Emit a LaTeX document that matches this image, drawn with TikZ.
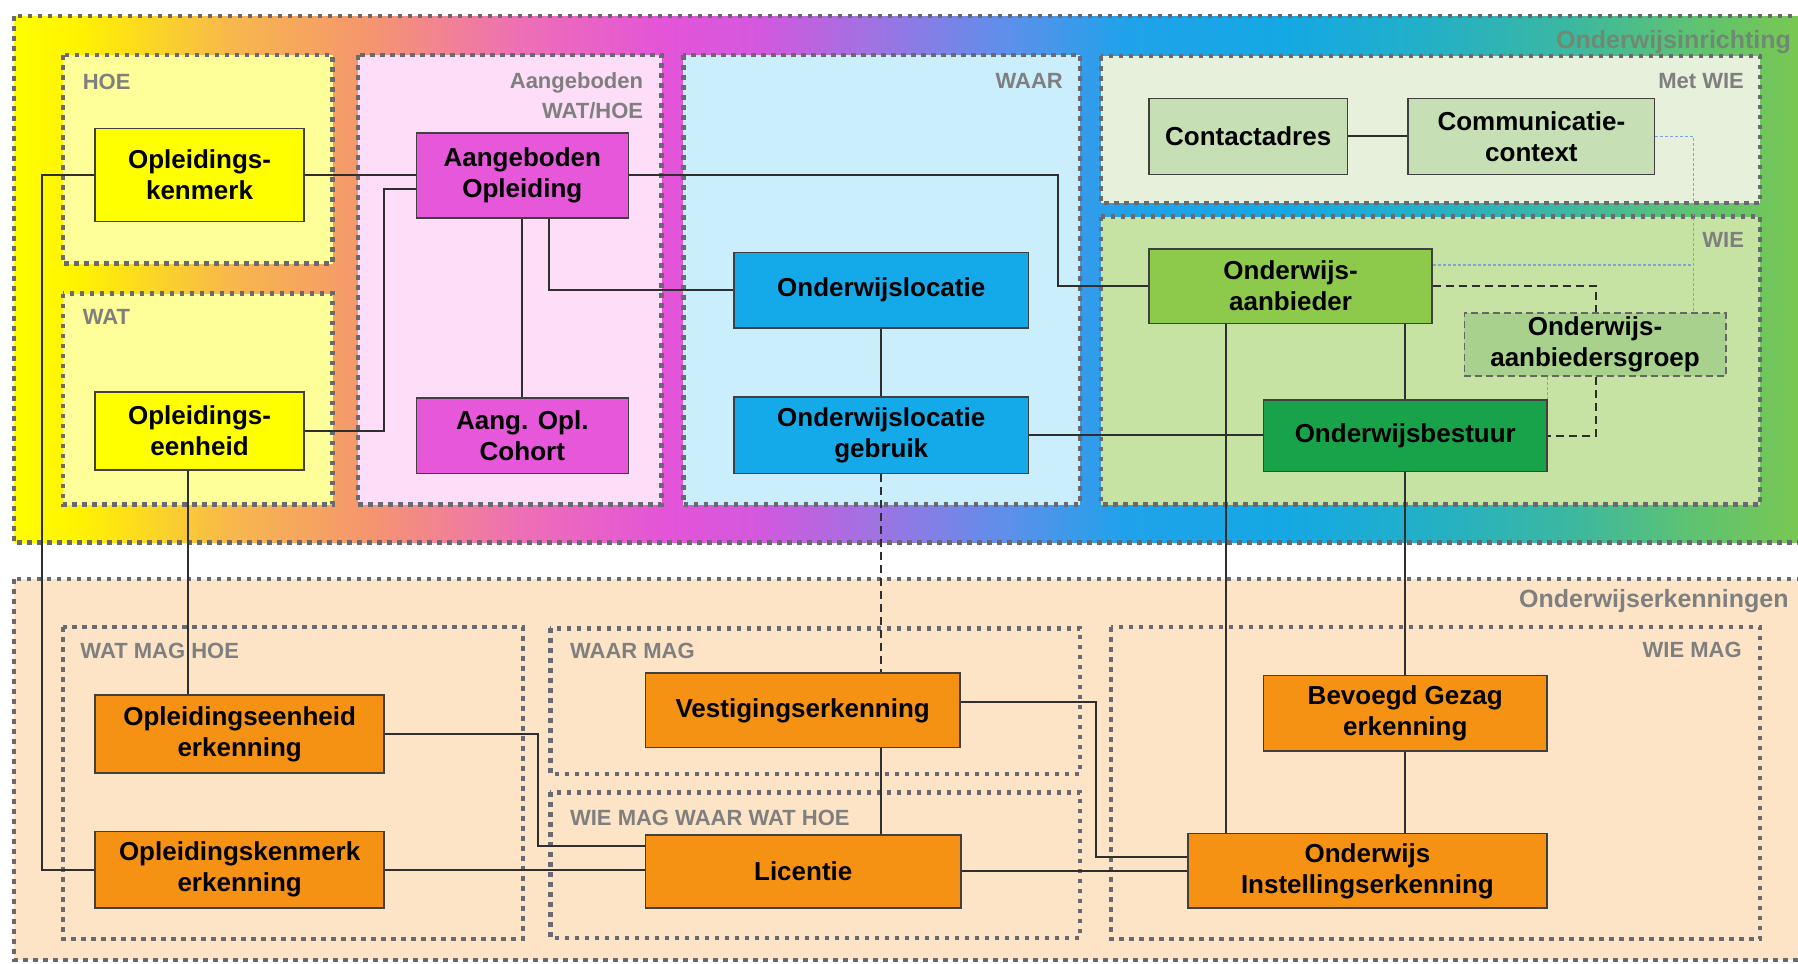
\documentclass[tikz,border=0pt]{standalone}
\usepackage{fontspec}
\setmainfont{Liberation Sans}
\usetikzlibrary{calc}
\definecolor{s0}{HTML}{FFFF00}
\definecolor{s1}{HTML}{FFF200}
\definecolor{s2}{HTML}{F7B84C}
\definecolor{s3}{HTML}{F5966E}
\definecolor{s4}{HTML}{EE70B4}
\definecolor{s5}{HTML}{E354D8}
\definecolor{s6}{HTML}{D458DE}
\definecolor{s7}{HTML}{A072E2}
\definecolor{s8}{HTML}{5C90EA}
\definecolor{s9}{HTML}{20A2EA}
\definecolor{s10}{HTML}{14A8E4}
\definecolor{s11}{HTML}{22B0C8}
\definecolor{s12}{HTML}{3CB8A0}
\definecolor{s13}{HTML}{5CC274}
\definecolor{s14}{HTML}{7CC84E}
\pgfdeclarehorizontalshading{rainbow}{100bp}{color(0bp)=(s0); color(25bp)=(s0); color(26.85bp)=(s1); color(31bp)=(s2); color(34.82bp)=(s3); color(38.97bp)=(s4); color(43.11bp)=(s5); color(45.66bp)=(s6); color(48.85bp)=(s7); color(52.68bp)=(s8); color(55.87bp)=(s9); color(60.33bp)=(s10); color(64.16bp)=(s11); color(68.3bp)=(s12); color(71.49bp)=(s13); color(75bp)=(s14); color(100bp)=(s14)}
\definecolor{dotgray}{HTML}{6A6870}
\definecolor{labgray}{HTML}{7F7F7F}
\definecolor{ingray}{HTML}{6F8A72}
\definecolor{edgec}{HTML}{404040}
\definecolor{linec}{HTML}{2E2E2E}
\definecolor{bluec}{HTML}{7AA6DA}
\definecolor{cyel}{HTML}{FFFF00}
\definecolor{cmag}{HTML}{E657D9}
\definecolor{cblu}{HTML}{14A9E8}
\definecolor{clg}{HTML}{C6DFB4}
\definecolor{cgreen}{HTML}{8DC94B}
\definecolor{cgrp}{HTML}{A9D18E}
\definecolor{cdg}{HTML}{18A24A}
\definecolor{cor}{HTML}{F59214}
\definecolor{fyel}{HTML}{FFFF99}
\definecolor{fpink}{HTML}{FDDDF7}
\definecolor{fblue}{HTML}{CAEEFC}
\definecolor{fmet}{HTML}{E6F0DA}
\definecolor{fwie}{HTML}{C6E3A4}
\definecolor{forange}{HTML}{FDE4C6}
\newcommand{\entfont}{\fontsize{26}{31}\selectfont\bfseries}
\newcommand{\lblfont}{\fontsize{22}{26}\selectfont\bfseries}
\newcommand{\bigfont}{\fontsize{25}{29}\selectfont\bfseries}
\tikzset{
  dotbox/.style={draw=dotgray, line width=4.5pt, dash pattern=on 4.5pt off 5.5pt},
  ent/.style={draw=edgec, line width=1.5pt, inner sep=0pt, align=center, font=\entfont, text=black},
  sz/.style 2 args={minimum width=#1*1.1467pt, minimum height=#2*1.1467pt},
  conn/.style={draw=linec, line width=2pt},
  dconn/.style={draw=linec, line width=2pt, dash pattern=on 8pt off 5pt},
  bconn/.style={draw=bluec, line width=1.3pt, dash pattern=on 3pt off 2pt},
  lab/.style={text=labgray, font=\lblfont, inner sep=0pt},
}
\begin{document}
\begin{tikzpicture}[x=1.1467pt,y=-1.1467pt]
\useasboundingbox (0,0) rectangle (1568,840);
% outer containers
\shade[shading=rainbow] (12,14) rectangle (1580,473);
\draw[dotbox] (12,14) rectangle (1580,473);
\fill[forange] (12,505) rectangle (1580,837);
\draw[dotbox] (12,505) rectangle (1580,837);
% sub containers
\draw[dotbox, fill=fyel] (55,48) rectangle (290,230);
\draw[dotbox, fill=fyel] (55,256) rectangle (290,440);
\draw[dotbox, fill=fpink] (312,48) rectangle (577,440);
\draw[dotbox, fill=fblue] (596,48) rectangle (942,440);
\draw[dotbox, fill=fmet] (960,49) rectangle (1535,177);
\draw[dotbox, fill=fwie] (960,189) rectangle (1535,440);
\draw[dotbox] (55,547) rectangle (456,819);
\draw[dotbox] (480,548) rectangle (942,675);
\draw[dotbox] (480,691) rectangle (942,818);
\draw[dotbox] (969,547) rectangle (1535,819);
% labels
\node[lab, text=ingray, font=\bigfont, anchor=base east] (l1) at (1562,42) {Onderwijsinrichting};
\node[lab, font=\bigfont, anchor=base east] (l2) at (1560,530) {Onderwijserkenningen};
\node[lab, anchor=base west] (l3) at (72,78) {HOE};
\node[lab, anchor=base west] (l4) at (72,283) {WAT};
\node[lab, anchor=base east] (l5) at (561,77) {Aangeboden};
\node[lab, anchor=base east] (l6) at (561,103) {WAT/HOE};
\node[lab, anchor=base east] (l7) at (927,77) {WAAR};
\node[lab, anchor=base east] (l8) at (1521,77) {Met WIE};
\node[lab, anchor=base east] (l9) at (1521,216) {WIE};
\node[lab, anchor=base west] (l10) at (70,574) {WAT MAG HOE};
\node[lab, anchor=base west] (l11) at (497,574) {WAAR MAG};
\node[lab, anchor=base west] (l12) at (497,720) {WIE MAG WAAR WAT HOE};
\node[lab, anchor=base east] (l13) at (1519,573) {WIE MAG};
% entities
\node[ent, fill=cyel, sz={182}{81}] (ok) at (174,152.5) {Opleidings-\\kenmerk};
\node[ent, fill=cyel, sz={182}{68}] (oe) at (174,376) {Opleidings-\\eenheid};
\node[ent, fill=cmag, sz={185}{74}] (ao) at (455.5,153) {Aangeboden\\Opleiding};
\node[ent, fill=cmag, sz={185}{66}] (aoc) at (455.5,380) {Aang. Opl.\\Cohort};
\node[ent, fill=cblu, sz={257}{66}] (ol) at (768.5,253) {Onderwijslocatie};
\node[ent, fill=cblu, sz={257}{67}] (olg) at (768.5,379.5) {Onderwijslocatie\\gebruik};
\node[ent, fill=clg, sz={173}{66}] (ca) at (1088.5,119) {Contactadres};
\node[ent, fill=clg, sz={215}{66}] (cc) at (1335.5,119) {Communicatie-\\context};
\node[ent, fill=cgreen, sz={247}{65}] (oa) at (1125.5,249.5) {Onderwijs-\\aanbieder};
\node[ent, fill=cgrp, draw=edgec!80, dash pattern=on 7pt off 4pt, sz={228}{55}] (oag) at (1391,300.5) {Onderwijs-\\aanbiedersgroep};
\node[ent, fill=cdg, sz={247}{62}] (ob) at (1225.5,380) {Onderwijsbestuur};
\node[ent, fill=cor, sz={252}{68}] (oee) at (209,640) {Opleidingseenheid\\erkenning};
\node[ent, fill=cor, sz={252}{67}] (oke) at (209,758.5) {Opleidingskenmerk\\erkenning};
\node[ent, fill=cor, sz={274}{65}] (ve) at (700,619.5) {Vestigingserkenning};
\node[ent, fill=cor, sz={275}{64}] (li) at (700.5,760) {Licentie};
\node[ent, fill=cor, sz={247}{66}] (bg) at (1225.5,622) {Bevoegd Gezag\\erkenning};
\node[ent, fill=cor, sz={313}{65}] (oi) at (1192.5,759.5) {Onderwijs\\Instellingserkenning};
% helper coordinates
\coordinate (j1) at (335,165);
\coordinate (j2) at (37,152.5);
\coordinate (j3) at (164,0);
\coordinate (j4) at (479,253);
\coordinate (j5) at (923,153);
\coordinate (j6) at (1477,119);
\coordinate (j7) at (1477,231);
\coordinate (j8) at (1392,249.5);
\coordinate (j9) at (1069,0);
\coordinate (j10) at (469,738);
\coordinate (j11) at (956,612);
\coordinate (j12) at (956,747);
% connectors
\draw[conn] (ok.east) -- (ok.east -| ao.west);
\draw[conn] (oe.east) -- (oe.east -| j1) -- (j1) -- (j1 -| ao.west);
\draw[conn] (ok.west) -- (j2) -- (j2 |- oke.west) -- (oke.west);
\draw[conn] (oe.south -| j3) -- (oee.north -| j3);
\draw[conn] (ao.south) -- (aoc.north);
\draw[conn] (ao.south -| j4) -- (j4) -- (j4 -| ol.west);
\draw[conn] (ao.east) -- (j5) -- (j5 |- oa.west) -- (oa.west);
\draw[conn] (ol.south) -- (olg.north);
\draw[conn] (olg.east) -- (olg.east -| ob.west);
\draw[dconn] (olg.south) -- (olg.south |- ve.north);
\draw[conn] (ve.south -| olg.south) -- (li.north -| olg.south);
\draw[conn] (ca.east) -- (cc.west);
\draw[bconn] (cc.east) -- (j6) -- (j6 |- oag.north);
\draw[bconn] (j7 -| oa.east) -- (j7);
\draw[bconn] (oag.south -| ob.east) -- (ob.north east);
\draw[dconn] (oa.east) -- (j8) -- (j8 |- oag.north);
\draw[dconn] (j8 |- oag.south) -- (j8 |- ob.east) -- (ob.east);
\draw[conn] (oa.south -| j9) -- (oi.north -| j9);
\draw[conn] (oa.south -| ob.north) -- (ob.north);
\draw[conn] (ob.south) -- (bg.north);
\draw[conn] (bg.south) -- (bg.south |- oi.north);
\draw[conn] (oee.east) -- (oee.east -| j10) -- (j10) -- (j10 -| li.west);
\draw[conn] (oke.east) -- (oke.east -| li.west);
\draw[conn] (ve.east |- j11) -- (j11) -- (j12) -- (j12 -| oi.west);
\draw[conn] (li.east) -- (li.east -| oi.west);
\end{tikzpicture}
\end{document}
